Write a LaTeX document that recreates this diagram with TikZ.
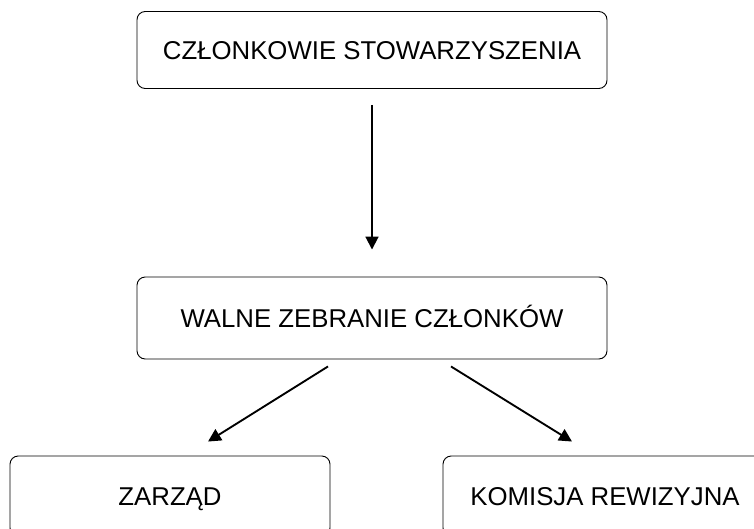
\documentclass[tikz,border=0pt]{standalone}
\usepackage{fontspec}
\setmainfont{Liberation Sans}
\usetikzlibrary{arrows.meta, positioning}

\begin{document}
\begin{tikzpicture}[x=0.03cm, y=-0.03cm,
    box/.style={draw, line width=0.8pt, rounded corners=7pt, align=center,
      font=\fontsize{22}{26}\selectfont, inner sep=0pt, text height=15.75pt, text depth=0pt},
    link/.style={line width=1.6pt, -{Triangle[length=11pt, width=11pt]}}]
\clip (0, 0) rectangle (754, 528);
\node [box, minimum width=470*0.03cm, minimum height=77*0.03cm] (czlonkowie) at (372, 50) {CZŁONKOWIE STOWARZYSZENIA};
\node [box, minimum width=470*0.03cm, minimum height=82*0.03cm] (walne) at (372, 318) {WALNE ZEBRANIE CZŁONKÓW};
\node [box, minimum width=320*0.03cm, minimum height=80*0.03cm] (zarzad) at (170, 496) {ZARZĄD};
\node [box, minimum width=324*0.03cm, minimum height=80*0.03cm] (komisja) at (605, 496) {KOMISJA REWIZYJNA};
\draw [link] ([yshift=-16*0.03cm] czlonkowie.south) -- ([yshift=27*0.03cm] walne.north);
\draw [link] ([xshift=-44*0.03cm, yshift=-7*0.03cm] walne.south) -- ([xshift=38*0.03cm, yshift=14*0.03cm] zarzad.north);
\draw [link] ([xshift=79*0.03cm, yshift=-7*0.03cm] walne.south) -- ([xshift=-33*0.03cm, yshift=14*0.03cm] komisja.north);
\end{tikzpicture}
\end{document}
